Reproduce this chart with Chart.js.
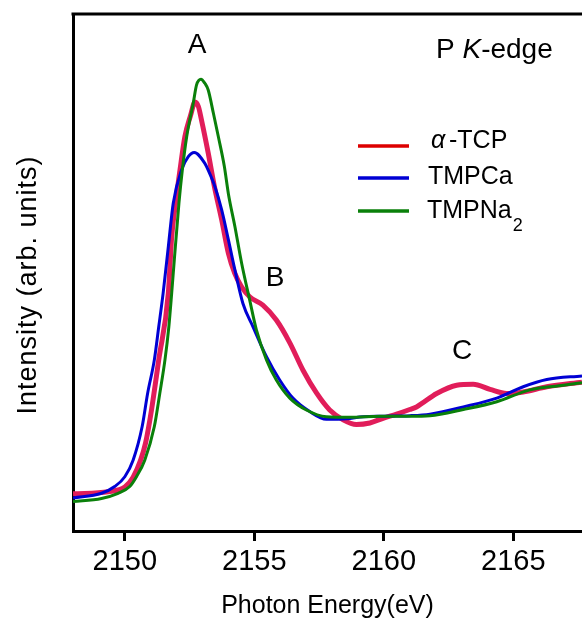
<!DOCTYPE html>
<html>
<head>
<meta charset="utf-8">
<script src="https://cdn.jsdelivr.net/npm/chart.js@4.4.1/dist/chart.umd.min.js"></script>
<style>
html, body { margin: 0; padding: 0; background: #fff; overflow: hidden; }
canvas { display: block; }
</style>
</head>
<body>
<canvas id="xanes" width="582" height="619"></canvas>
<script>
// --- data (intensity in arb. units, 0-100) ---
const xTicks = [2150, 2155, 2160, 2165];

const tcpEnergy = [2148.0, 2149.36, 2150.0, 2150.32, 2150.61, 2150.80, 2151.03, 2151.31, 2151.68, 2151.81,
  2151.96, 2152.13, 2152.32, 2152.54, 2152.71, 2152.84, 2152.96, 2153.22, 2153.46, 2153.74,
  2154.00, 2154.24, 2154.50, 2154.82, 2155.33, 2155.85, 2156.37, 2156.88, 2157.40, 2157.91,
  2158.43, 2158.94, 2159.46, 2159.97, 2160.49, 2161.00, 2161.26, 2162.04, 2162.81, 2163.45,
  2164.10, 2164.74, 2165.38, 2166.29, 2167.65];
const tcpIntensity = [7.2, 7.6, 8.5, 10.4, 13.7, 17.0, 23.4, 33.1, 46.0, 56.9,
  63.4, 69.8, 76.3, 80.4, 83.0, 82.1, 79.5, 73.1, 66.6, 60.2,
  53.7, 49.9, 47.3, 45.3, 43.7, 40.8, 36.4, 31.1, 26.7, 23.4,
  21.5, 20.6, 20.9, 21.8, 22.6, 23.5, 24.0, 26.6, 28.2, 28.4,
  27.4, 26.6, 26.9, 27.9, 28.8];

const caEnergy = [2148.0, 2149.10, 2149.61, 2150.00, 2150.32, 2150.67, 2150.88, 2151.14, 2151.31, 2151.48,
  2151.68, 2151.87, 2152.19, 2152.45, 2152.68, 2153.09, 2153.22, 2153.48, 2153.74, 2154.00,
  2154.25, 2154.56, 2154.95, 2155.47, 2155.98, 2156.49, 2157.14, 2157.78, 2158.56, 2159.20,
  2159.97, 2161.00, 2161.78, 2163.07, 2164.36, 2165.38, 2166.29, 2167.65];
const caIntensity = [6.4, 7.3, 8.6, 10.5, 13.7, 20.2, 26.6, 33.1, 39.5, 46.0,
  55.0, 63.4, 69.8, 72.4, 73.2, 71.1, 69.8, 66.6, 62.1, 56.3,
  50.5, 44.0, 39.5, 33.7, 29.2, 25.7, 23.1, 21.6, 21.7, 22.1,
  22.2, 22.3, 22.6, 24.0, 25.7, 27.9, 29.3, 30.0];

const naEnergy = [2148.0, 2149.10, 2149.74, 2150.19, 2150.45, 2150.77, 2151.14, 2151.35, 2151.55, 2151.70,
  2151.81, 2151.91, 2152.09, 2152.22, 2152.39, 2152.64, 2152.77, 2152.94, 2153.09, 2153.22,
  2153.42, 2153.61, 2153.84, 2154.00, 2154.25, 2154.51, 2154.82, 2155.08, 2155.47, 2155.85,
  2156.37, 2157.01, 2157.78, 2158.69, 2159.85, 2161.00, 2161.78, 2163.07, 2164.36, 2165.64,
  2166.93, 2167.65];
const naIntensity = [5.7, 6.3, 7.3, 8.6, 10.5, 13.7, 20.2, 26.6, 33.1, 39.5,
  46.0, 52.4, 63.4, 69.8, 76.3, 82.7, 86.3, 87.4, 86.6, 85.3,
  80.8, 76.3, 70.6, 65.2, 58.9, 51.8, 44.7, 38.9, 33.1, 29.2,
  25.7, 23.4, 22.1, 22.0, 22.2, 22.2, 22.3, 23.5, 25.0, 27.3,
  28.2, 28.7];

const FONT = "'Liberation Sans', Arial, sans-serif";

function toPoints(xs, ys) {
  return xs.map((x, i) => ({ x: x, y: ys[i] }));
}

// --- annotations, legend, frame top ---
const extras = {
  id: 'extras',
  afterDraw(chart) {
    const ctx = chart.ctx;
    const a = chart.chartArea;
    ctx.save();

    // top frame line
    ctx.strokeStyle = '#000';
    ctx.lineWidth = 3;
    ctx.beginPath();
    ctx.moveTo(a.left - 1.5, a.top);
    ctx.lineTo(chart.width, a.top);
    ctx.stroke();

    ctx.fillStyle = '#000';
    ctx.textBaseline = 'alphabetic';

    // peak labels
    ctx.font = '28px ' + FONT;
    ctx.textAlign = 'center';
    ctx.fillText('A', 197, 53);
    ctx.fillText('B', 275, 286);
    ctx.fillText('C', 462, 359);

    // P K-edge
    ctx.textAlign = 'left';
    let x = 436;
    ctx.font = '28px ' + FONT;
    ctx.fillText('P ', x, 58);
    x += ctx.measureText('P ').width;
    ctx.font = 'italic 28px ' + FONT;
    ctx.fillText('K', x, 58);
    x += ctx.measureText('K').width;
    ctx.font = '28px ' + FONT;
    ctx.fillText('-edge', x, 58);

    // legend
    const rows = [
      { color: '#dd0000', y: 146, base: 148 },
      { color: '#0000d4', y: 178, base: 184 },
      { color: '#0a800a', y: 211, base: 218 }
    ];
    ctx.lineWidth = 3.5;
    rows.forEach(r => {
      ctx.strokeStyle = r.color;
      ctx.beginPath();
      ctx.moveTo(358, r.y);
      ctx.lineTo(409, r.y);
      ctx.stroke();
    });
    ctx.font = 'italic 25px ' + FONT;
    ctx.fillText('\u03b1', 431, rows[0].base);
    ctx.font = '25px ' + FONT;
    ctx.fillText('-TCP', 449, rows[0].base);
    ctx.fillText('TMPCa', 428, rows[1].base);
    ctx.fillText('TMPNa', 427, rows[2].base);
    const w = ctx.measureText('TMPNa').width;
    ctx.font = '18px ' + FONT;
    ctx.fillText('2', 427 + w + 1, 231);

    // y axis title
    ctx.translate(29, 285);
    ctx.rotate(-Math.PI / 2);
    ctx.font = '27px ' + FONT;
    ctx.letterSpacing = '1px';
    ctx.textAlign = 'center';
    ctx.textBaseline = 'middle';
    ctx.fillText('Intensity (arb. units)', 0, 0);
    ctx.restore();
  }
};

new Chart(document.getElementById('xanes'), {
  type: 'line',
  data: {
    datasets: [
      { label: 'TMPNa2', data: toPoints(naEnergy, naIntensity), borderColor: '#0a800a', borderWidth: 3, order: 0 },
      { label: 'TMPCa', data: toPoints(caEnergy, caIntensity), borderColor: '#0000d4', borderWidth: 3, order: 1 },
      { label: 'α-TCP', data: toPoints(tcpEnergy, tcpIntensity), borderColor: '#e11d5a', borderWidth: 5, order: 2 }
    ]
  },
  options: {
    responsive: false,
    animation: false,
    events: [],
    layout: { padding: { top: 14, left: 0, right: 0, bottom: 0 } },
    elements: {
      point: { radius: 0 },
      line: { cubicInterpolationMode: 'monotone', fill: false }
    },
    plugins: { legend: { display: false }, tooltip: { enabled: false } },
    scales: {
      x: {
        type: 'linear',
        min: 2148,
        max: 2167.65,
        afterBuildTicks: s => { s.ticks = xTicks.map(v => ({ value: v })); },
        afterFit: s => { s.height = 88; },
        grid: { drawOnChartArea: false, drawTicks: true, tickLength: 10, tickWidth: 3, tickColor: '#000' },
        border: { display: true, color: '#000', width: 3 },
        ticks: { color: '#000', font: { family: FONT, size: 29 }, padding: 4, maxRotation: 0, autoSkip: false,
          callback: v => String(v) },
        title: { display: true, text: 'Photon Energy(eV)', color: '#000', font: { family: FONT, size: 25, lineHeight: 1 }, padding: 0 }
      },
      y: {
        min: 0,
        max: 100,
        afterFit: s => { s.width = 73; },
        grid: { display: false },
        border: { display: true, color: '#000', width: 3 },
        ticks: { display: false }
      }
    }
  },
  plugins: [extras]
});
</script>
</body>
</html>
